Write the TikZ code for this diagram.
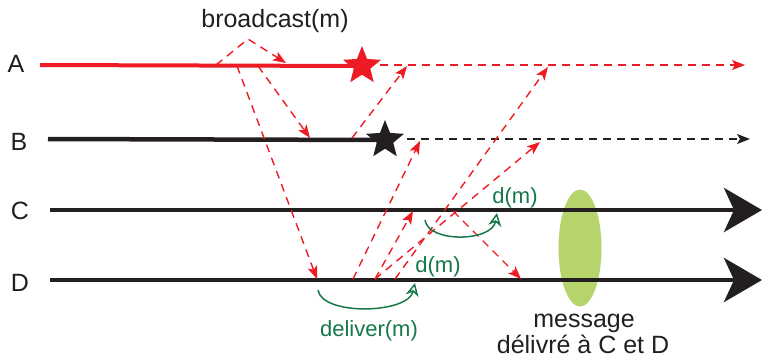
\documentclass[tikz,border=0pt]{standalone}
\usepackage{fontspec}
\setmainfont{Liberation Sans}
\usetikzlibrary{arrows.meta,shapes.geometric}
\definecolor{rougeM}{HTML}{ED1C24}
\definecolor{noirM}{HTML}{231F20}
\definecolor{vertD}{HTML}{17784A}
\definecolor{vertE}{HTML}{B5D56C}

\begin{document}
\begin{tikzpicture}[x=1pt,y=-1pt,>=Stealth,
  txt/.style={anchor=base,inner sep=0pt,text=noirM,font=\fontsize{25}{28}\selectfont},
  gtxt/.style={anchor=base,inner sep=0pt,text=vertD,font=\fontsize{22}{26}\selectfont},
  msg/.style={rougeM,line width=1.4pt,dash pattern=on 8pt off 6pt,
    -{Stealth[length=13pt,width=10pt,inset=3pt]}},
  ligne/.style={noirM,line width=4.5pt},
  grosse/.style={ligne,-{Stealth[length=38pt,width=44pt,inset=10pt]}},
  livre/.style={vertD,line width=1.5pt,-{Stealth[open,length=13pt,width=13pt,inset=4pt]}},
  etoile/.style={star,star points=5,star point ratio=2.3,inner sep=0pt,minimum size=40pt}]
  \useasboundingbox (0,0) rectangle (762,360);
  % message delivre a C et D
  \node[ellipse,fill=vertE,minimum width=43pt,minimum height=117pt] (zone) at (580,248) {};
  % processus
  \node[txt] (pA) at (16,72) {A};
  \node[txt] (pB) at (19,150) {B};
  \node[txt] (pC) at (20,219) {C};
  \node[txt] (pD) at (20,291) {D};
  \coordinate (a0) at (40,65);
  \coordinate (aF) at (745,65);
  \coordinate (b0) at (48,139);
  \coordinate (bF) at (750,139);
  \coordinate (c0) at (50,210);
  \coordinate (cF) at (762,210);
  \coordinate (d0) at (50,280);
  \coordinate (dF) at (762,280);
  \node[etoile] (sA) at (362,66) {};
  \node[etoile] (sB) at (385,140) {};
  \draw[rougeM,line width=4pt] (a0) -- (sA.center);
  \draw[ligne] (b0) -- (sB.center);
  \node[etoile,fill=rougeM] at (sA) {};
  \node[etoile,fill=noirM] at (sB) {};
  \draw[msg] (380,65) -- (aF);
  \draw[noirM,line width=1.4pt,dash pattern=on 8pt off 6pt,
    -{Stealth[length=13pt,width=10pt,inset=3pt]}] (407,139) -- (bF);
  \draw[grosse] (c0) -- (cF);
  \draw[grosse] (d0) -- (dF);
  % points d'envoi et de reception
  \coordinate (a1) at (216,65);
  \coordinate (a1h) at (248,39);
  \coordinate (a1e) at (286,63);
  \coordinate (a2) at (237,66);
  \coordinate (a3) at (258,66);
  \coordinate (a4) at (407,66);
  \coordinate (a5) at (548,67);
  \coordinate (b1) at (310,138);
  \coordinate (b2) at (352,138);
  \coordinate (b3) at (420,141);
  \coordinate (b4) at (540,142);
  \coordinate (c1) at (413,211);
  \coordinate (c2) at (453,211);
  \coordinate (d1) at (317,279);
  \coordinate (d2) at (353,279);
  \coordinate (d3) at (375,279);
  \coordinate (d4) at (395,279);
  \coordinate (d5) at (521,279);
  % messages
  \draw[msg] (a1) -- (a1h) -- (a1e);
  \draw[msg] (a3) -- (b1);
  \draw[msg] (a2) -- (d1);
  \draw[msg] (b2) -- (a4);
  \draw[msg] (d2) -- (b3);
  \draw[msg] (d3) -- (c1);
  \draw[msg] (d3) -- (b4);
  \draw[msg] (d4) -- (a5);
  \draw[msg] (c2) -- (d5);
  % delivrances
  \coordinate (dl1) at (318,290);
  \coordinate (dl2) at (415,283);
  \coordinate (dl3) at (425,220);
  \coordinate (dl4) at (497,213);
  \draw[livre] (dl1) .. controls (322,316) and (408,314) .. (dl2);
  \draw[livre] (dl3) .. controls (428,243) and (492,242) .. (dl4);
  \node[txt] (bcast) at (275,27) {broadcast(m)};
  \node[gtxt] (dmD) at (438,272) {d(m)};
  \node[gtxt] (dmC) at (515,203) {d(m)};
  \node[gtxt] (dlv) at (369,336) {deliver(m)};
  \node[txt] (msg1) at (584,327) {message};
  \node[txt] (msg2) at (583,353) {délivré à C et D};
\end{tikzpicture}
\end{document}
